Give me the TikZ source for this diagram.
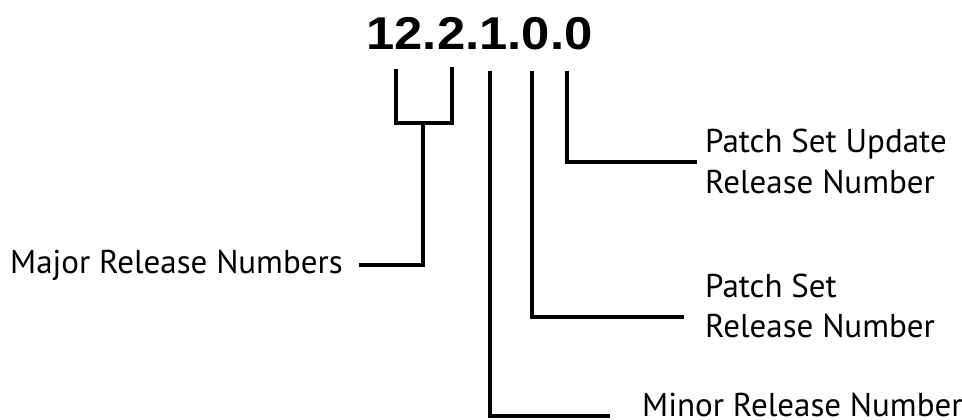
\documentclass[tikz,border=0pt]{standalone}
\usepackage{fontspec}
\setmainfont{PT Sans}
\newfontfamily\titlefont{Liberation Sans}
\begin{document}
\begin{tikzpicture}[x=1pt,y=-1pt,
  conn/.style={line width=4pt, line join=miter},
  thinconn/.style={line width=3.2pt, line join=miter},
  lbl/.style={anchor=base west, inner sep=0pt, font=\fontsize{33}{40}\selectfont, align=left}]
\useasboundingbox (0,0) rectangle (962,420);
\node[inner sep=0pt, anchor=base] (title) at (479.5,50)
  {\scalebox{1.105}[1]{\titlefont\bfseries\fontsize{46}{50}\selectfont 12.2.1.0.0}};
\node[lbl] (major) at (10,273) {Major Release Numbers};
\node[lbl] (psu) at (705,193) {Patch Set Update\\Release Number};
\node[lbl] (ps) at (705,337) {Patch Set\\Release Number};
\node[lbl] (minor) at (642,416) {Minor Release Number};
\coordinate (mj1) at (396,69);
\coordinate (mj2) at (452,67);
\coordinate (mjc) at (423,123);
\coordinate (mnTop) at (490,71);
\coordinate (psTop) at (532,71);
\coordinate (psuTop) at (567,71);
\draw[conn] (mj1) |- (mjc) -| (mj2);
\draw[conn] (mjc) |- ([xshift=16pt]major.east);
\draw[conn] (psuTop) |- ([xshift=-8pt,yshift=31pt]psu.base west);
\draw[thinconn] (psTop) |- ([xshift=-21pt,yshift=20pt]ps.base west);
\draw[conn] (mnTop) |- ([xshift=-32pt]minor.base west);
\end{tikzpicture}
\end{document}
